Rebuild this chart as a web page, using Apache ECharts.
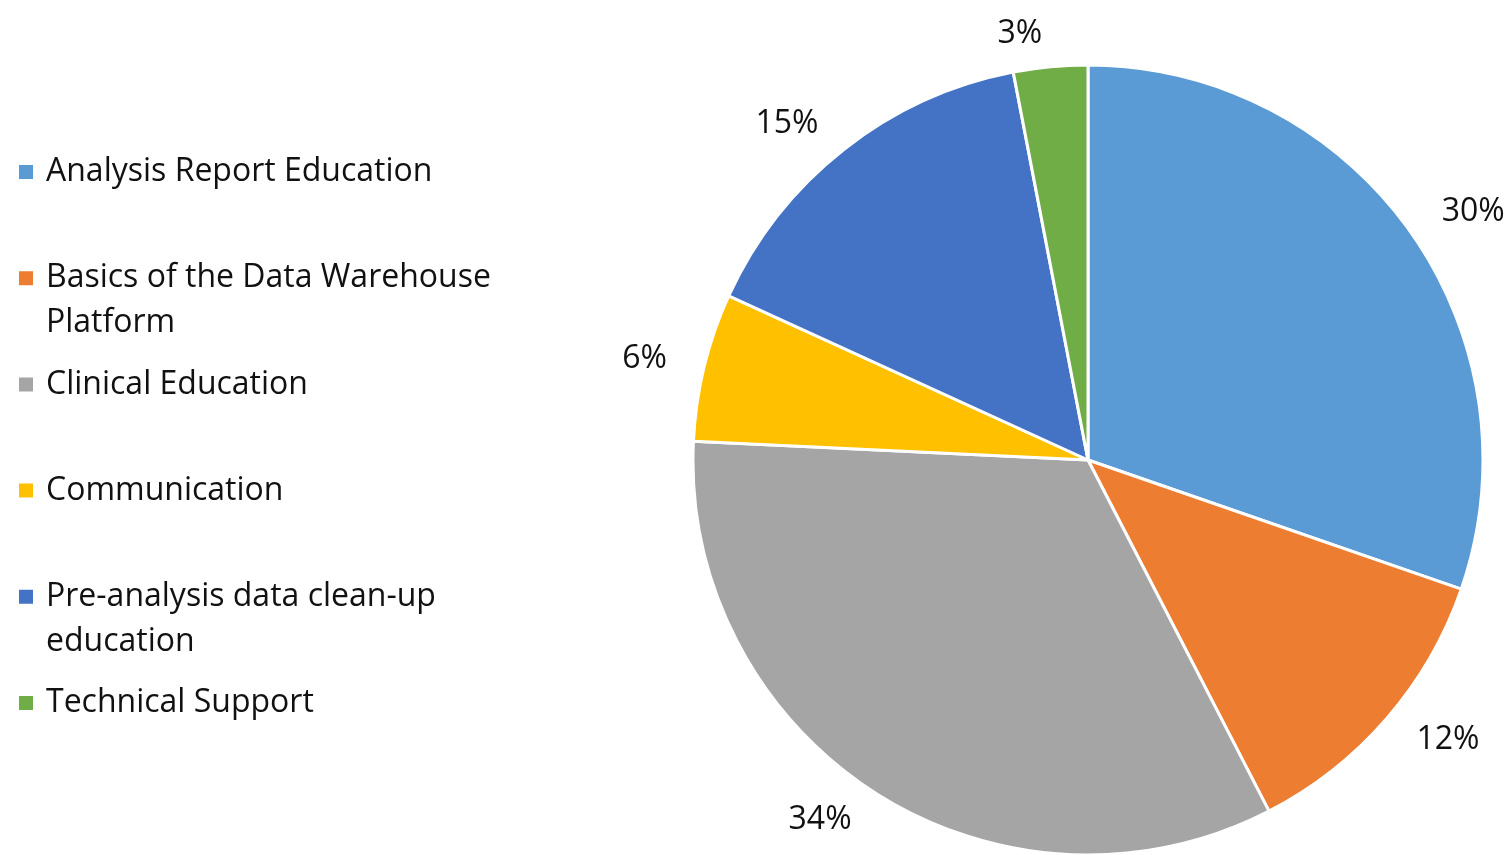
<!DOCTYPE html>
<html>
<head>
<meta charset="utf-8">
<script src="https://cdn.jsdelivr.net/npm/echarts@6/dist/echarts.min.js"></script>
<style>
  html, body { margin: 0; padding: 0; background: #fff; }
  #chart { width: 1507px; height: 855px; }
</style>
</head>
<body>
<div id="chart"></div>
<script>
// categories and counts (labels show the rounded shares)
const categories = [
  'Analysis Report Education',
  'Basics of the Data Warehouse Platform',
  'Clinical Education',
  'Communication',
  'Pre-analysis data clean-up education',
  'Technical Support'
];
const counts = [10, 4, 11, 2, 5, 1];
// how the legend wraps long names
const legendText = [
  'Analysis Report Education',
  'Basics of the Data Warehouse\nPlatform',
  'Clinical Education',
  'Communication',
  'Pre-analysis data clean-up\neducation',
  'Technical Support'
];
const colors = ['#5B9BD5', '#ED7D31', '#A5A5A5', '#FFC000', '#4472C4', '#70AD47'];

const chart = echarts.init(document.getElementById('chart'));

const FONT = 'Open Sans';
const LINE_H = 45;

// one legend per entry so every entry gets the same slot height
const legends = categories.map((name, i) => {
  const txt = legendText[i];
  const wrapped = txt.indexOf('\n') >= 0;
  const markerY = 172 + 106.2 * i;
  return {
    data: [name],
    orient: 'vertical',
    left: 17,
    top: markerY - (wrapped ? LINE_H * 1.5 : LINE_H / 2),
    padding: 0,
    itemWidth: 16,
    itemHeight: 16,
    itemGap: 0,
    icon: 'rect',
    selectedMode: false,
    formatter: () => (wrapped ? '\n' + txt : txt),
    textStyle: {
      fontFamily: FONT,
      fontSize: 32,
      color: '#111',
      lineHeight: LINE_H,
      padding: [0, 0, 0, 7]
    }
  };
});

const option = {
  animation: false,
  color: colors,
  legend: legends,
  series: [
    {
      type: 'pie',
      center: [1088, 460],
      radius: 395,
      startAngle: 90,
      clockwise: true,
      avoidLabelOverlap: false,
      percentPrecision: 0,
      emphasis: { disabled: true },
      itemStyle: {
        borderColor: '#fff',
        borderWidth: 3
      },
      label: {
        show: true,
        position: 'outside',
        formatter: '{d}%',
        fontFamily: FONT,
        fontSize: 32,
        color: '#111'
      },
      labelLine: { show: false, length: 33, length2: 0 },
      data: categories.map((name, i) => ({ name: name, value: counts[i] }))
    }
  ]
};

chart.setOption(option);
</script>
</body>
</html>
